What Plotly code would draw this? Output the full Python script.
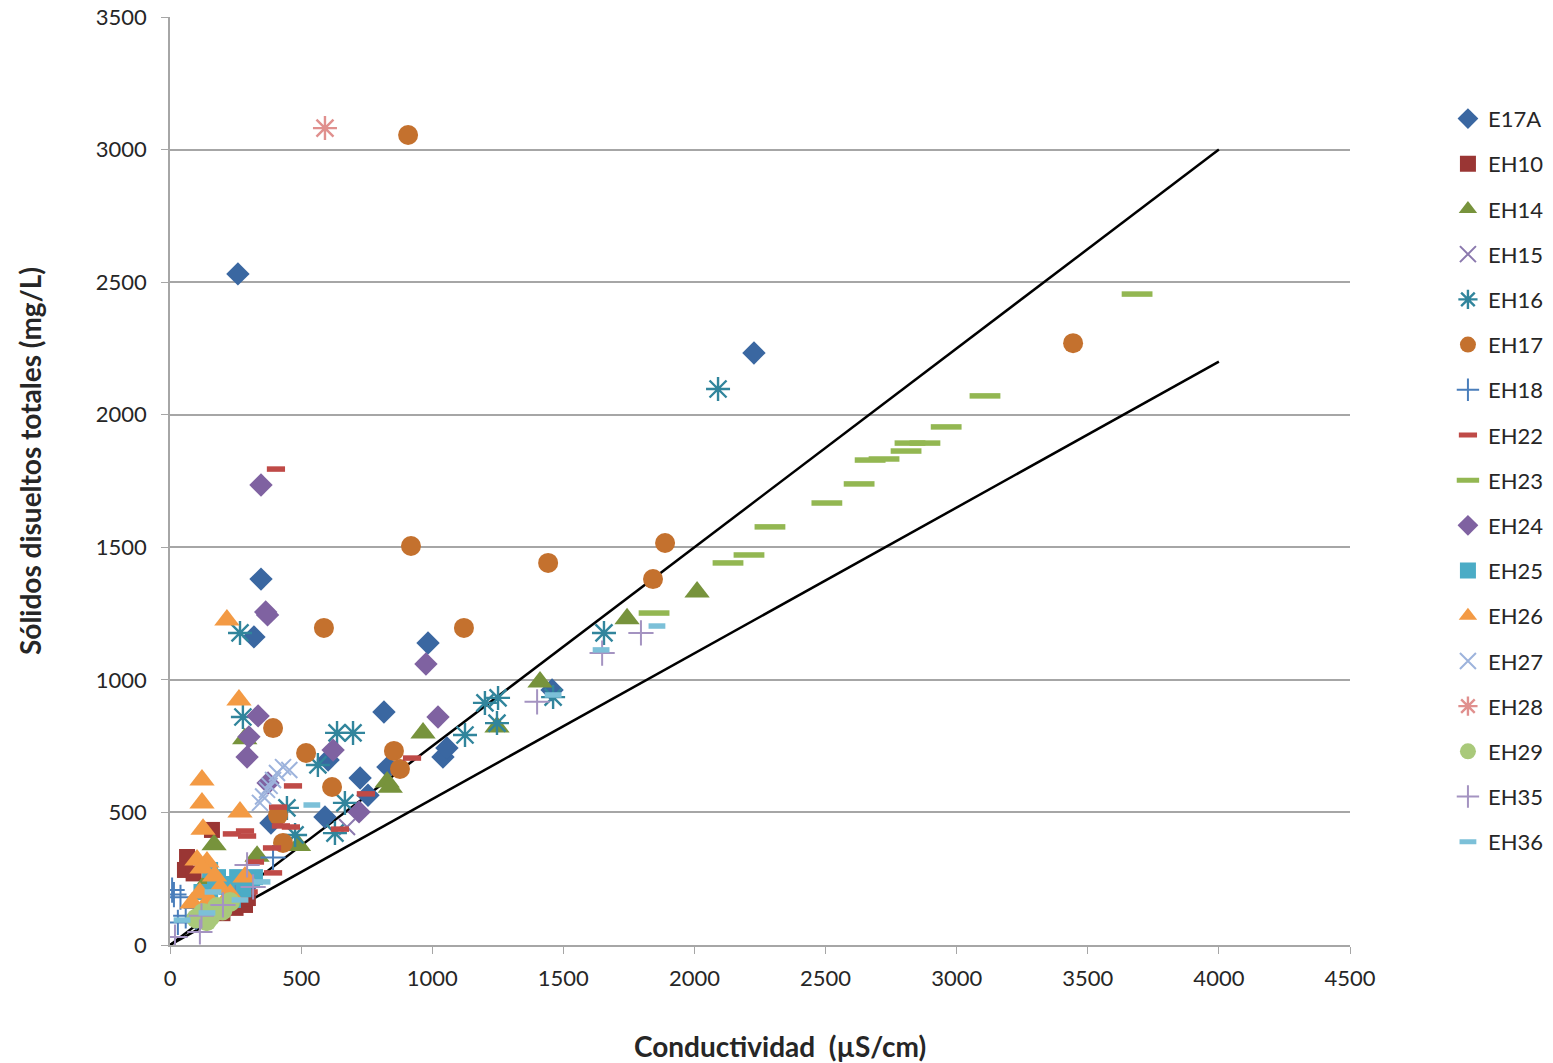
import plotly.graph_objects as go

# ---------------- data ----------------
E17A_x = [259, 2227, 347, 320, 984, 816, 725, 831, 1041, 1056, 603, 591, 755, 385, 1457, 100, 150, 230, 300]
E17A_y = [2531, 2233, 1380, 1162, 1139, 879, 630, 671, 709, 743, 698, 483, 565, 460, 962, 100, 150, 200, 230]

EH10_x = [65, 57, 160, 286, 297, 90, 200, 250]
EH10_y = [332, 283, 434, 151, 177, 270, 120, 140]

EH14_x = [2010, 1743, 1411, 1247, 965, 828, 840, 490, 332, 168, 285, 150, 250]
EH14_y = [1331, 1230, 992, 822, 800, 615, 595, 375, 335, 378, 778, 250, 240]

EH15_x = [675, 120, 200]
EH15_y = [445, 100, 150]

EH16_x = [2090, 1655, 267, 278, 1201, 1251, 1247, 1125, 637, 698, 564, 667, 629, 477, 446, 1461]
EH16_y = [2097, 1177, 1177, 860, 913, 932, 837, 792, 800, 800, 679, 536, 422, 415, 517, 935]

EH17_x = [908, 919, 1442, 1888, 1842, 587, 1121, 393, 519, 618, 854, 877, 412, 431, 3444]
EH17_y = [3055, 1505, 1441, 1516, 1380, 1196, 1196, 818, 724, 596, 732, 664, 490, 385, 2270]

EH18_x = [15, 40, 30, 393, 60, 100, 8]
EH18_y = [190, 180, 85, 330, 110, 140, 207]

EH22_x = [404, 469, 747, 923, 648, 412, 423, 461, 236, 286, 294, 389, 324, 393, 300, 260, 200]
EH22_y = [1795, 600, 570, 705, 437, 520, 449, 445, 419, 430, 411, 366, 313, 272, 200, 180, 150]

EH23_x = [3688, 3108, 2960, 2822, 2879, 2807, 2670, 2723, 2628, 2505, 2288, 2208, 2128, 1846]
EH23_y = [2455, 2071, 1954, 1893, 1893, 1863, 1829, 1833, 1739, 1667, 1577, 1471, 1441, 1252]

EH24_x = [347, 365, 372, 976, 1022, 336, 301, 294, 622, 721, 374, 150, 250]
EH24_y = [1735, 1256, 1245, 1060, 860, 864, 785, 709, 735, 502, 611, 120, 200]

EH25_x = [153, 183, 256, 324, 217, 172, 313, 153, 120, 280, 240, 200]
EH25_y = [283, 256, 256, 256, 219, 240, 245, 181, 200, 210, 170, 230]

EH26_x = [217, 263, 122, 122, 267, 126, 103, 141, 122, 114, 84, 286, 191, 150, 170, 230]
EH26_y = [1226, 924, 622, 536, 502, 437, 321, 313, 290, 196, 158, 256, 215, 170, 260, 190]

EH27_x = [343, 355, 370, 393, 408, 431, 455, 380]
EH27_y = [536, 560, 585, 622, 649, 671, 660, 600]

EH28_x = [591]
EH28_y = [3081]

EH29_x = [100, 126, 153, 179, 229, 200, 140]
EH29_y = [100, 121, 106, 143, 162, 130, 90]

EH35_x = [1796, 1648, 1400, 19, 114, 202, 294, 317, 120]
EH35_y = [1177, 1101, 917, 30, 49, 151, 302, 219, 110]

EH36_x = [1857, 1644, 541, 1461, 351, 267, 164, 141, 46]
EH36_y = [1203, 1113, 528, 943, 238, 170, 200, 121, 94]

# reference lines
ref_x = [0, 4000]
ref_upper_y = [0, 3000]
ref_lower_y = [0, 2200]

x_ticks = [0, 500, 1000, 1500, 2000, 2500, 3000, 3500, 4000, 4500]
y_ticks = [0, 500, 1000, 1500, 2000, 2500, 3000, 3500]

x_title = "Conductividad  (µS/cm)"
y_title = "Sólidos disueltos totales (mg/L)"

series = [
    ("E17A", E17A_x, E17A_y, "diamond", 18, "#3A67A1", 0),
    ("EH10", EH10_x, EH10_y, "square", 16, "#9A3634", 0),
    ("EH14", EH14_x, EH14_y, "triangle-up", 22, "#77933C", 0),
    ("EH15", EH15_x, EH15_y, "x-thin-open", 16, "#8B79AE", 2),
    ("EH16", EH16_x, EH16_y, "asterisk-open", 20, "#31859C", 2.4),
    ("EH17", EH17_x, EH17_y, "circle", 20, "#C4712E", 0),
    ("EH18", EH18_x, EH18_y, "cross-thin-open", 18, "#4A7EBB", 2),
    ("EH22", EH22_x, EH22_y, "line-ew-open", 13, "#BF4A47", 5.5),
    ("EH23", EH23_x, EH23_y, "line-ew-open", 22, "#93B752", 5.5),
    ("EH24", EH24_x, EH24_y, "diamond", 18, "#7F62A1", 0),
    ("EH25", EH25_x, EH25_y, "square", 16, "#4BACC6", 0),
    ("EH26", EH26_x, EH26_y, "triangle-up", 22, "#F39A44", 0),
    ("EH27", EH27_x, EH27_y, "x-thin-open", 16, "#9DB3DC", 2),
    ("EH28", EH28_x, EH28_y, "asterisk-open", 20, "#E0908E", 2.4),
    ("EH29", EH29_x, EH29_y, "circle", 20, "#A9C97A", 0),
    ("EH35", EH35_x, EH35_y, "cross-thin-open", 18, "#A493C1", 2),
    ("EH36", EH36_x, EH36_y, "line-ew-open", 12, "#7CC0D8", 5.5),
]

fig = go.Figure()

fig.add_trace(go.Scatter(x=ref_x, y=ref_upper_y, mode="lines",
                         line=dict(color="black", width=2.5), showlegend=False, hoverinfo="skip"))
fig.add_trace(go.Scatter(x=ref_x, y=ref_lower_y, mode="lines",
                         line=dict(color="black", width=2.5), showlegend=False, hoverinfo="skip"))

for name, xs, ys, sym, size, col, lw in series:
    if lw > 0:
        marker = dict(symbol=sym, size=size, color=col, line=dict(color=col, width=lw))
    else:
        marker = dict(symbol=sym, size=size, color=col, line=dict(width=0))
    fig.add_trace(go.Scatter(x=xs, y=ys, mode="markers", name=name, marker=marker,
                             legendgroup=name))

W, H = 1553, 1063
fig.update_layout(
    width=W, height=H,
    margin=dict(l=170, r=203, t=17, b=118, autoexpand=False),
    paper_bgcolor="white", plot_bgcolor="white",
    font=dict(family="Lato, Open Sans, sans-serif", size=22, color="#262626"),
    legend=dict(x=1.083, y=0.913, xanchor="left", yanchor="top",
                font=dict(size=22, color="#262626"), tracegroupgap=13.6,
                itemwidth=30, bgcolor="rgba(0,0,0,0)"),
    xaxis=dict(range=[0, 4500], tickvals=x_ticks, showgrid=False, zeroline=False,
               automargin=False,
               showline=True, linecolor="#A6A6A6", linewidth=1.5,
               ticks="outside", ticklen=7, tickcolor="#A6A6A6",
               tickfont=dict(size=22), ticklabelstandoff=6),
    yaxis=dict(range=[0, 3500], tickvals=y_ticks, showgrid=True, gridcolor="#A6A6A6",
               gridwidth=1.5, zeroline=False, automargin=False,
               showline=True, linecolor="#A6A6A6", linewidth=1.5,
               ticks="outside", ticklen=7, tickcolor="#A6A6A6",
               tickfont=dict(size=22), ticklabelstandoff=10),
    annotations=[
        dict(text="<b>" + x_title + "</b>", xref="paper", yref="paper",
             x=(780 - 170) / 1180, y=-(1046 - 945) / 928, xanchor="center", yanchor="middle",
             showarrow=False, font=dict(size=28, color="#262626")),
        dict(text="<b>" + y_title + "</b>", xref="paper", yref="paper",
             x=(30 - 170) / 1180, y=(945 - 461) / 928, xanchor="center", yanchor="middle",
             textangle=-90, showarrow=False, font=dict(size=28, color="#262626")),
    ],
)

fig.write_html("out.html")
